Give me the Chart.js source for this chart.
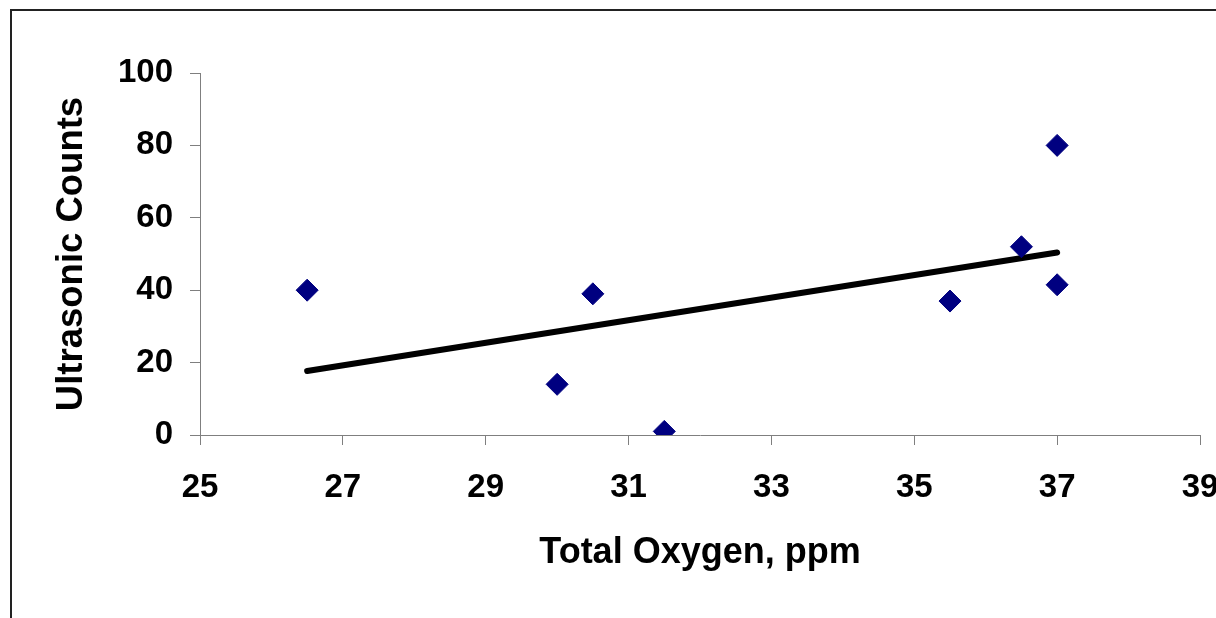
<!DOCTYPE html>
<html>
<head>
<meta charset="utf-8">
<script src="https://cdn.jsdelivr.net/npm/chart.js@4.4.0/dist/chart.umd.min.js"></script>
<style>
  html, body { margin: 0; padding: 0; background: #fff; }
  #wrap { position: relative; width: 1216px; height: 618px; }
</style>
</head>
<body>
<div id="wrap"><canvas id="myChart" width="1216" height="618"></canvas></div>
<script>
// measured points, Total Oxygen (ppm) vs Ultrasonic Counts
var oxygen = [26.5, 30, 30.5, 31.5, 35.5, 36.5, 37, 37];
var counts = [40, 14, 39, 1, 37, 52, 80, 41.5];

// linear trendline end points
var trendX = [26.5, 37];
var trendY = [17.7, 50.4];

var xTicks = [25, 27, 29, 31, 33, 35, 37, 39];
var yTicks = [0, 20, 40, 60, 80, 100];

var pts = [];
for (var i = 0; i < oxygen.length; i++) {
    pts.push({x: oxygen[i], y: counts[i]});
}
var trend = [];
for (var j = 0; j < trendX.length; j++) {
    trend.push({x: trendX[j], y: trendY[j]});
}

// outer chart frame (only top and left edges are inside the picture)
var framePlugin = {
    id: 'frame',
    beforeDraw: function (chart) {
        var ctx = chart.ctx;
        ctx.save();
        ctx.fillStyle = '#fff';
        ctx.fillRect(0, 0, chart.width, chart.height);
        ctx.strokeStyle = '#222';
        ctx.lineWidth = 2;
        ctx.strokeRect(11, 10, 1400, 800);
        ctx.restore();
    }
};

var font = "'Liberation Sans', Arial, sans-serif";
var axisGray = '#7f7f7f';

var chart = new Chart(document.getElementById('myChart'), {
    type: 'scatter',
    data: {
        datasets: [{
            label: 'Trend',
            type: 'line',
            data: trend,
            borderColor: '#000',
            borderWidth: 6,
            borderCapStyle: 'round',
            pointRadius: 0,
            fill: false,
            order: 2
        }, {
            label: 'Counts',
            data: pts,
            pointStyle: 'rectRot',
            pointRadius: 11,
            pointBackgroundColor: '#000080',
            pointBorderColor: '#000080',
            pointBorderWidth: 1,
            order: 1
        }]
    },
    options: {
        responsive: false,
        animation: false,
        layout: {padding: {left: 0, right: 16, top: 73, bottom: 0}},
        plugins: {legend: {display: false}, tooltip: {enabled: false}},
        scales: {
            x: {
                type: 'linear',
                min: 25,
                max: 39,
                afterBuildTicks: function (s) {
                    s.ticks = xTicks.map(function (v) { return {value: v}; });
                },
                afterFit: function (s) {
                    s.height = 183;
                    s.paddingRight = 0;
                },
                border: {display: true, color: axisGray, width: 1},
                grid: {drawOnChartArea: false, drawTicks: true, tickLength: 10, color: axisGray},
                ticks: {color: '#000', padding: 23, maxRotation: 0, font: {family: font, size: 33, weight: 'bold'}},
                title: {
                    display: true,
                    text: 'Total Oxygen, ppm',
                    color: '#000',
                    padding: {top: 0, bottom: 43},
                    font: {family: font, size: 36, weight: 'bold'}
                }
            },
            y: {
                type: 'linear',
                min: 0,
                max: 100,
                afterBuildTicks: function (s) {
                    s.ticks = yTicks.map(function (v) { return {value: v}; });
                },
                afterFit: function (s) {
                    s.width = 200;
                },
                border: {display: true, color: axisGray, width: 1},
                grid: {drawOnChartArea: false, drawTicks: true, tickLength: 10, color: axisGray},
                ticks: {color: '#000', padding: 17, font: {family: font, size: 33, weight: 'bold'}},
                title: {
                    display: true,
                    text: 'Ultrasonic Counts',
                    color: '#000',
                    padding: {top: 50, bottom: 0},
                    font: {family: font, size: 36.5, weight: 'bold'}
                }
            }
        }
    },
    plugins: [framePlugin]
});
</script>
</body>
</html>
